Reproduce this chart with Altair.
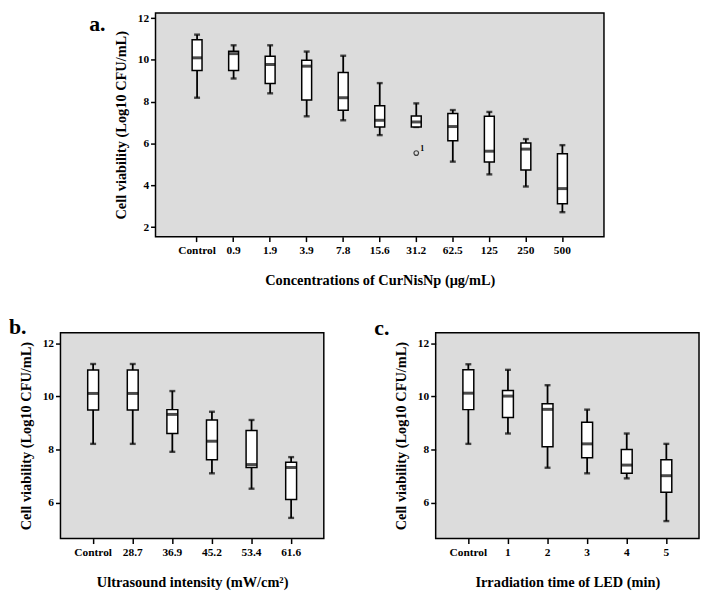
import altair as alt
import pandas as pd

FONT = "Liberation Serif"
YTITLE = "Cell viability (Log10 CFU/mL)"

# ---- Panel a: CurNisNp concentration ----
a_cats = ["Control", "0.9", "1.9", "3.9", "7.8", "15.6", "31.2", "62.5", "125", "250", "500"]
a_low = [8.19, 9.11, 8.40, 7.30, 7.11, 6.40, 6.79, 5.13, 4.52, 3.94, 2.71]
a_q1 = [9.49, 9.49, 8.87, 8.08, 7.59, 6.79, 6.79, 6.13, 5.11, 4.73, 3.11]
a_med = [10.10, 10.30, 9.78, 9.70, 8.19, 7.11, 7.03, 6.81, 5.63, 5.73, 3.84]
a_q3 = [10.97, 10.41, 10.17, 9.98, 9.40, 7.81, 7.32, 7.43, 7.30, 6.02, 5.51]
a_high = [11.21, 10.70, 10.70, 10.40, 10.20, 8.89, 7.92, 7.60, 7.51, 6.21, 5.92]
a_out_cat = ["31.2"]
a_out_val = [5.54]
a_out_lab = ["1"]

# ---- Panel b: ultrasound intensity ----
b_cats = ["Control", "28.7", "36.9", "45.2", "53.4", "61.6"]
b_low = [8.21, 8.21, 7.91, 7.10, 6.52, 5.42]
b_q1 = [9.49, 9.49, 8.60, 7.61, 7.32, 6.11]
b_med = [10.11, 10.11, 9.32, 8.31, 7.43, 7.32]
b_q3 = [10.99, 10.99, 9.50, 9.11, 8.71, 7.52]
b_high = [11.22, 11.22, 10.20, 9.42, 9.11, 7.71]

# ---- Panel c: LED irradiation time ----
c_cats = ["Control", "1", "2", "3", "4", "5"]
c_low = [8.21, 8.60, 7.31, 7.10, 6.91, 5.30]
c_q1 = [9.50, 9.20, 8.10, 7.69, 7.10, 6.39]
c_med = [10.12, 10.01, 9.51, 8.21, 7.41, 7.01]
c_q3 = [11.00, 10.22, 9.72, 9.02, 8.00, 7.61]
c_high = [11.21, 11.00, 10.42, 9.50, 8.60, 8.21]


def panel(cats, low, q1, med, q3, high, xtitle, letter, letter_x, letter_y, width, height,
          ydom, yticks, pad_outer, box_w, out=None):
    df = pd.DataFrame({"cat": cats, "low": low, "q1": q1, "med": med, "q3": q3, "high": high})
    base = alt.Chart(df)
    xax = alt.Axis(title=xtitle, labelAngle=0, titlePadding=18, labelPadding=3)
    x = alt.X("cat:N", sort=cats, scale=alt.Scale(paddingInner=0, paddingOuter=pad_outer), axis=xax)
    yscale = alt.Scale(domain=ydom, nice=False, zero=False)
    yax = alt.Axis(title=YTITLE, values=yticks, titlePadding=9)

    def Y(f):
        return alt.Y(f + ":Q", scale=yscale, axis=yax)

    whisk = base.mark_rule(color="black", strokeWidth=1.8).encode(x=x, y=Y("low"), y2="high:Q")
    cap_hi = base.mark_tick(color="black", size=6, thickness=2.4).encode(x=x, y=Y("high"))
    cap_lo = base.mark_tick(color="black", size=6, thickness=2.4).encode(x=x, y=Y("low"))
    box = base.mark_bar(fill="white", stroke="black", strokeWidth=1.5, size=box_w).encode(
        x=x, y=Y("q1"), y2="q3:Q")
    medt = base.mark_tick(color="black", size=box_w, thickness=3).encode(x=x, y=Y("med"))
    layers = [whisk, cap_hi, cap_lo, box, medt]
    if out is not None:
        odf = pd.DataFrame({"cat": out[0], "val": out[1], "lab": out[2]})
        ob = alt.Chart(odf)
        layers.append(ob.mark_point(shape="circle", filled=False, color="black", size=22,
                                    strokeWidth=1.2).encode(x=x, y=Y("val")))
        layers.append(ob.mark_text(font=FONT, fontSize=8, fontWeight="bold", color="black",
                                   dx=6, dy=-4).encode(x=x, y=Y("val"), text="lab:N"))
    ldf = pd.DataFrame({"t": [letter]})
    layers.append(alt.Chart(ldf).mark_text(
        font=FONT, fontSize=22, fontWeight="bold", color="black", align="left",
        baseline="alphabetic").encode(x=alt.value(letter_x), y=alt.value(letter_y), text="t:N"))
    return alt.layer(*layers).properties(width=width, height=height)


pa = panel(a_cats, a_low, a_q1, a_med, a_q3, a_high, "Concentrations of CurNisNp (μg/mL)",
           "a.", -67, 18, 453, 226, [1.54, 12.25], [2, 4, 6, 8, 10, 12], 0.638, 10,
           out=(a_out_cat, a_out_val, a_out_lab))
pb = panel(b_cats, b_low, b_q1, b_med, b_q3, b_high, "Ultrasound intensity (mW/cm²)",
           "b.", -52, 1, 266, 208, [4.64, 12.40], [6, 8, 10, 12], 0.325, 11)
pc = panel(c_cats, c_low, c_q1, c_med, c_q3, c_high, "Irradiation time of LED (min)",
           "c.", -62, 2, 266, 208, [4.64, 12.40], [6, 8, 10, 12], 0.325, 11)

# invisible left spacer that pushes panel a to the right
spacer = alt.Chart(pd.DataFrame({"s": [0]})).mark_rule(opacity=0).encode(
    x=alt.value(0), x2=alt.value(27), y=alt.value(0)
).properties(width=27, height=1,
             view=alt.ViewBackground(fill="transparent", stroke="transparent"))

top = alt.hconcat(spacer, pa, spacing=0)
bottom = alt.hconcat(pb, pc, spacing=49)
chart = alt.vconcat(top, bottom, spacing=27).properties(
    padding=0, background="white"
).configure_view(
    fill="#dcdcdc", stroke="black", strokeWidth=1.5
).configure_axis(
    domain=False, grid=False, tickColor="black", tickSize=5, tickWidth=1.5,
    labelFont=FONT, labelFontWeight="bold", labelFontSize=11.5, labelColor="black",
    titleFont=FONT, titleFontWeight="bold", titleFontSize=14.5, titleColor="black",
)

chart.save("out.html", embed_options={"renderer": "svg", "actions": False})
